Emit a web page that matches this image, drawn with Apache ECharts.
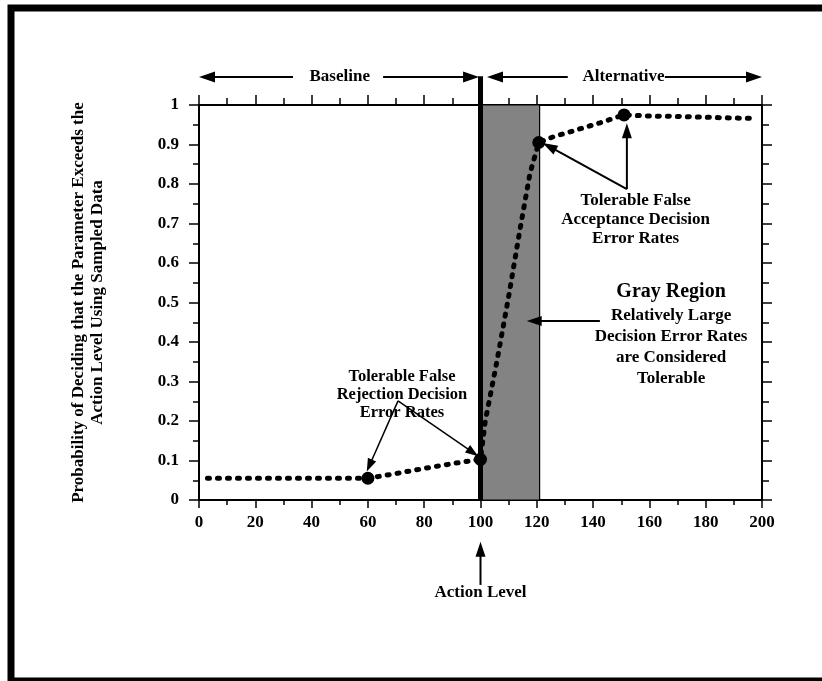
<!DOCTYPE html>
<html><head><meta charset="utf-8">
<script src="https://cdn.jsdelivr.net/npm/echarts@6/dist/echarts.min.js"></script>
<style>html,body{margin:0;padding:0;background:#fff}#c{width:822px;height:681px}</style>
</head><body><div id="c"></div>
<script>
// ---- data ----
const curveX = [3, 10, 20, 30, 40, 50, 60, 70, 80, 90, 100, 101.7, 105.8, 110, 114, 117.6, 120.7, 126, 131.8, 142.5, 151, 160, 170, 180, 190, 197];
const curveY = [0.055, 0.055, 0.055, 0.055, 0.055, 0.055, 0.055, 0.067, 0.08, 0.092, 0.103, 0.2, 0.35, 0.515, 0.684, 0.828, 0.905, 0.92, 0.932, 0.955, 0.975, 0.972, 0.971, 0.969, 0.967, 0.966];
const markerX = [60, 100, 120.7, 151];
const markerY = [0.055, 0.103, 0.905, 0.975];
const grayRegion = [100, 121];
const actionLevel = 100;
const yAxisTitle = ['Probability of Deciding that the Parameter Exceeds the', 'Action Level Using Sampled Data'];

// annotation anchors in data coordinates
const rangeY = 1.071;
const baselineText = ['Baseline', 50, rangeY];
const alternativeText = ['Alternative', 150.8, rangeY];
const rangeArrows = [ // [fromX, toX] (arrowhead at toX)
  [33.4, 0], [65.4, 99.5], [131, 102.3], [165.5, 200]
];
const rejectionLines = ['Tolerable False', 'Rejection Decision', 'Error Rates'];
const rejectionPos = [72.1, 0.311, 0.0455];
const rejectionArrows = [[70.7, 0.251, 59.6, 0.072], [70.7, 0.251, 99.2, 0.111]];
const acceptanceLines = ['Tolerable False', 'Acceptance Decision', 'Error Rates'];
const acceptancePos = [155.1, 0.759, 0.048];
const acceptanceArrows = [[152, 0.787, 122.1, 0.904], [152, 0.787, 152, 0.954]];
const grayTitle = ['Gray Region', 167.7, 0.527];
const grayLines = ['Relatively Large', 'Decision Error Rates', 'are Considered', 'Tolerable'];
const grayLinesPos = [167.7, 0.466, 0.0525];
const grayArrow = [142.4, 0.453, 116.4, 0.453];
const actionText = ['Action Level', 100, -0.235];
const actionArrow = [100, -0.215, 100, -0.106];
const actionLineTop = 1.073;

const FONT = '"Liberation Serif", "DejaVu Serif", serif';
const chart = echarts.init(document.getElementById('c'), null, {renderer: 'canvas'});

const tickLabel = {color: '#000', fontFamily: FONT, fontWeight: 'bold', fontSize: 17};
const axisLine = {show: true, onZero: false, lineStyle: {color: '#000', width: 2}};

const option = {
  animation: false,
  backgroundColor: '#fff',
  grid: {left: 199, right: 60, top: 105, bottom: 181, containLabel: false},
  xAxis: [
    {type: 'value', min: 0, max: 200, interval: 20, position: 'bottom',
     axisLine: axisLine, axisTick: {show: true, length: 8, lineStyle: {color: '#000', width: 1.5}},
     minorTick: {show: true, splitNumber: 2, length: 5, lineStyle: {color: '#000', width: 1.5}},
     splitLine: {show: false}, axisLabel: Object.assign({margin: 14}, tickLabel)},
    {type: 'value', min: 0, max: 200, interval: 20, position: 'top',
     axisLine: axisLine, axisTick: {show: true, length: 10, lineStyle: {color: '#000', width: 1.5}},
     minorTick: {show: true, splitNumber: 2, length: 7, lineStyle: {color: '#000', width: 1.5}},
     splitLine: {show: false}, axisLabel: {show: false}}
  ],
  yAxis: [
    {type: 'value', min: 0, max: 1, interval: 0.1, position: 'left',
     axisLine: axisLine, axisTick: {show: true, length: 10, lineStyle: {color: '#000', width: 1.5}},
     minorTick: {show: true, splitNumber: 2, length: 6, lineStyle: {color: '#000', width: 1.5}},
     splitLine: {show: false}, axisLabel: Object.assign({margin: 20}, tickLabel),
     name: yAxisTitle.join('\n'), nameLocation: 'middle', nameGap: 92, nameRotate: 90,
     nameTextStyle: {color: '#000', fontFamily: FONT, fontWeight: 'bold', fontSize: 17, lineHeight: 19}},
    {type: 'value', min: 0, max: 1, interval: 0.1, position: 'right',
     axisLine: axisLine, axisTick: {show: true, length: 10, lineStyle: {color: '#000', width: 1.5}},
     minorTick: {show: true, splitNumber: 2, length: 7, lineStyle: {color: '#000', width: 1.5}},
     splitLine: {show: false}, axisLabel: {show: false}}
  ],
  series: [
    {type: 'line', xAxisIndex: 0, yAxisIndex: 0, data: curveX.map((x, i) => [x, curveY[i]]),
     symbol: 'none', smooth: false, z: 3,
     lineStyle: {color: '#000', width: 5, type: [2, 8], cap: 'round'},
     markArea: {silent: true, itemStyle: {color: '#838383', borderColor: '#000', borderWidth: 1.2},
       data: [[{coord: [grayRegion[0], 0]}, {coord: [grayRegion[1], 1]}]]}},
    {type: 'scatter', xAxisIndex: 0, yAxisIndex: 0, data: markerX.map((x, i) => [x, markerY[i]]),
     symbol: 'circle', symbolSize: 13, itemStyle: {color: '#000', opacity: 1}, z: 4}
  ]
};
chart.setOption(option);

const P = (x, y) => chart.convertToPixel({gridIndex: 0}, [x, y]);
const g = [];
function line(a, b, w) {
  g.push({type: 'line', shape: {x1: a[0], y1: a[1], x2: b[0], y2: b[1]}, style: {stroke: '#000', lineWidth: w}, z: 100});
}
function arrow(a, b, w, len, hw) {
  const dx = b[0] - a[0], dy = b[1] - a[1], d = Math.hypot(dx, dy);
  const ux = dx / d, uy = dy / d;
  const bx = b[0] - ux * len, by = b[1] - uy * len;
  line(a, [bx + ux * 2, by + uy * 2], w);
  g.push({type: 'polygon', shape: {points: [b, [bx - uy * hw, by + ux * hw], [bx + uy * hw, by - ux * hw]]},
          style: {fill: '#000'}, z: 101});
}
function text(t, p, size) {
  g.push({type: 'text', x: p[0], y: p[1], z: 102,
          style: {text: t, fill: '#000', font: 'bold ' + size + 'px ' + FONT, align: 'center', verticalAlign: 'middle'}});
}
// frame
g.push({type: 'rect', shape: {x: 11, y: 8, width: 900, height: 673}, style: {fill: 'none', stroke: '#000', lineWidth: 7}, z: 100});
// action level line
line(P(actionLevel, 0), P(actionLevel, actionLineTop), 5);
// range arrows
rangeArrows.forEach(r => arrow(P(r[0], rangeY), P(r[1], rangeY), 2, 16, 5.5));
text(baselineText[0], P(baselineText[1], baselineText[2]), 17);
text(alternativeText[0], P(alternativeText[1], alternativeText[2]), 17);
// rejection
rejectionLines.forEach((t, i) => text(t, P(rejectionPos[0], rejectionPos[1] - i * rejectionPos[2]), 16.5));
rejectionArrows.forEach(a => arrow(P(a[0], a[1]), P(a[2], a[3]), 1.5, 13, 4.5));
// acceptance
acceptanceLines.forEach((t, i) => text(t, P(acceptancePos[0], acceptancePos[1] - i * acceptancePos[2]), 17));
acceptanceArrows.forEach(a => arrow(P(a[0], a[1]), P(a[2], a[3]), 2, 15, 5));
// gray region
text(grayTitle[0], P(grayTitle[1], grayTitle[2]), 20);
grayLines.forEach((t, i) => text(t, P(grayLinesPos[0], grayLinesPos[1] - i * grayLinesPos[2]), 17));
arrow(P(grayArrow[0], grayArrow[1]), P(grayArrow[2], grayArrow[3]), 2, 15, 5);
// action level
arrow(P(actionArrow[0], actionArrow[1]), P(actionArrow[2], actionArrow[3]), 2, 15, 5);
text(actionText[0], P(actionText[1], actionText[2]), 17);

chart.setOption({graphic: g});
</script>
</body></html>
